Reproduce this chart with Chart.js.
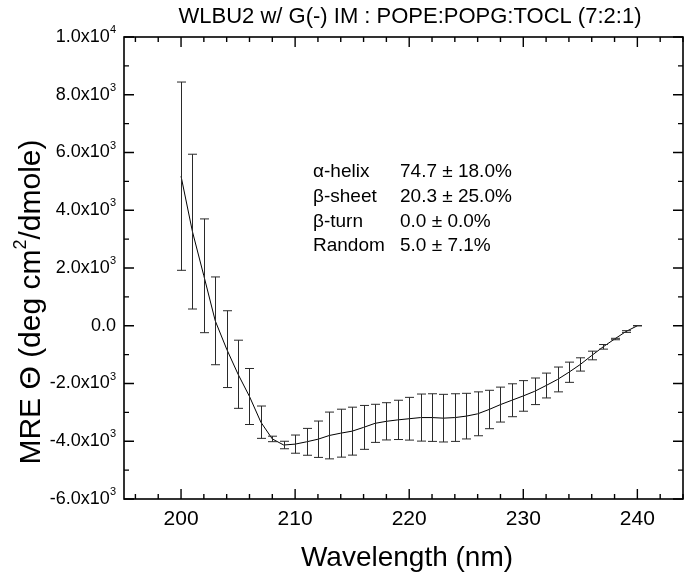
<!DOCTYPE html>
<html>
<head>
<meta charset="utf-8">
<title>WLBU2 CD spectrum</title>
<script src="https://cdn.jsdelivr.net/npm/chart.js@4.4.1/dist/chart.umd.min.js"></script>
<style>
  html, body { margin: 0; padding: 0; background: #fff; }
  #wrap { width: 689px; height: 575px; }
</style>
</head>
<body>
<div id="wrap"><canvas id="cd" width="689" height="575"></canvas></div>
<script>
// wavelength (nm) and mean residue ellipticity
const wavelength = [200, 201, 202, 203, 204, 205, 206, 207, 208, 209, 210,
    211, 212, 213, 214, 215, 216, 217, 218, 219, 220,
    221, 222, 223, 224, 225, 226, 227, 228, 229, 230,
    231, 232, 233, 234, 235, 236, 237, 238, 239, 240];
const mre = [5180, 3260, 1730, 170, -810, -1680, -2450, -3340, -3920, -4130, -4100,
    -4020, -3930, -3800, -3720, -3650, -3520, -3380, -3310, -3260, -3220,
    -3180, -3180, -3200, -3180, -3130, -3050, -2900, -2730, -2580, -2430,
    -2270, -2070, -1860, -1610, -1340, -1030, -730, -460, -200, 0];
const mreErr = [3260, 2680, 1970, 1520, 1330, 1180, 970, 560, 95, 130, 315,
    465, 630, 810, 830, 830, 760, 660, 645, 680, 740,
    815, 825, 825, 825, 790, 760, 665, 605, 570, 530,
    460, 430, 430, 350, 230, 150, 80, 25, 30, 5];

const xTicks = [200, 210, 220, 230, 240];
const xTickLabels = ['200', '210', '220', '230', '240'];
const yTicks = [10000, 8000, 6000, 4000, 2000, 0, -2000, -4000, -6000];
const yTickLabels = ['1.0x10^4', '8.0x10^3', '6.0x10^3', '4.0x10^3', '2.0x10^3',
    '0.0', '-2.0x10^3', '-4.0x10^3', '-6.0x10^3'];

const structLabels = ['\u03b1-helix', '\u03b2-sheet', '\u03b2-turn', 'Random'];
const structValues = ['74.7 \u00b1 18.0%', '20.3 \u00b1 25.0%', '0.0 \u00b1 0.0%', '5.0 \u00b1 7.1%'];

const FONT = '"Liberation Sans", Arial, sans-serif';

// draws the error bars, the frame with inward ticks and all the text
const decor = {
    id: 'decor',
    afterDatasetsDraw(chart) {
        const ctx = chart.ctx;
        const xs = chart.scales.x;
        const ys = chart.scales.y;
        const a = chart.chartArea;

        // error bars
        ctx.save();
        ctx.strokeStyle = '#2a2a2a';
        ctx.lineWidth = 1;
        wavelength.forEach((w, i) => {
            const px = Math.round(xs.getPixelForValue(w)) + 0.5;
            const top = ys.getPixelForValue(mre[i] + mreErr[i]);
            const bot = ys.getPixelForValue(mre[i] - mreErr[i]);
            ctx.beginPath();
            ctx.moveTo(px, top); ctx.lineTo(px, bot);
            ctx.moveTo(px - 4.5, top); ctx.lineTo(px + 4.5, top);
            ctx.moveTo(px - 4.5, bot); ctx.lineTo(px + 4.5, bot);
            ctx.stroke();
        });
        ctx.restore();

        // frame
        ctx.save();
        ctx.strokeStyle = '#000';
        ctx.lineWidth = 1.6;
        ctx.strokeRect(a.left, a.top, a.right - a.left, a.bottom - a.top);

        // x ticks (every 2 nm, major every 10)
        ctx.lineWidth = 1.4;
        ctx.beginPath();
        for (let v = 196; v <= 244; v += 2) {
            const px = xs.getPixelForValue(v);
            const len = (v % 10 === 0) ? 10 : 5;
            ctx.moveTo(px, a.bottom); ctx.lineTo(px, a.bottom - len);
            ctx.moveTo(px, a.top); ctx.lineTo(px, a.top + len);
        }
        // y ticks (every 1000, major every 2000)
        for (let v = -6000; v <= 10000; v += 1000) {
            const py = ys.getPixelForValue(v);
            const len = (v % 2000 === 0) ? 10 : 5;
            ctx.moveTo(a.left, py); ctx.lineTo(a.left + len, py);
            ctx.moveTo(a.right, py); ctx.lineTo(a.right - len, py);
        }
        ctx.stroke();
        ctx.restore();

        ctx.save();
        ctx.fillStyle = '#000';
        ctx.textBaseline = 'middle';

        // x tick labels
        ctx.font = '21px ' + FONT;
        ctx.textAlign = 'center';
        xTicks.forEach((v, i) => {
            ctx.fillText(xTickLabels[i], xs.getPixelForValue(v), a.bottom + 20);
        });

        // y tick labels with superscript exponent
        yTicks.forEach((v, i) => {
            const py = ys.getPixelForValue(v);
            const parts = yTickLabels[i].split('^');
            ctx.font = '18px ' + FONT;
            const w1 = ctx.measureText(parts[0]).width;
            let w2 = 0;
            if (parts[1]) {
                ctx.font = '11px ' + FONT;
                w2 = ctx.measureText(parts[1]).width;
            }
            const right = a.left - 8;
            ctx.textAlign = 'left';
            ctx.font = '18px ' + FONT;
            ctx.fillText(parts[0], right - w1 - w2, py);
            if (parts[1]) {
                ctx.font = '11px ' + FONT;
                ctx.fillText(parts[1], right - w2, py - 7);
            }
        });

        // title
        ctx.font = '22px ' + FONT;
        ctx.textAlign = 'center';
        ctx.fillText('WLBU2 w/ G(-) IM : POPE:POPG:TOCL (7:2:1)', 410, 17);

        // x axis title
        ctx.font = '28px ' + FONT;
        ctx.fillText('Wavelength (nm)', 407, 558);

        // y axis title, rotated
        ctx.save();
        ctx.translate(32, 302);
        ctx.rotate(-Math.PI / 2);
        ctx.textAlign = 'left';
        const t1 = 'MRE \u0398 (deg cm';
        const t2 = '2';
        const t3 = '/dmole)';
        ctx.font = '30px ' + FONT;
        const w1 = ctx.measureText(t1).width;
        const w3 = ctx.measureText(t3).width;
        ctx.font = '18px ' + FONT;
        const w2 = ctx.measureText(t2).width;
        let x0 = -(w1 + w2 + w3) / 2;
        ctx.font = '30px ' + FONT;
        ctx.fillText(t1, x0, 0);
        ctx.font = '18px ' + FONT;
        ctx.fillText(t2, x0 + w1, -11);
        ctx.font = '30px ' + FONT;
        ctx.fillText(t3, x0 + w1 + w2, 0);
        ctx.restore();

        // secondary structure box
        ctx.font = '19px ' + FONT;
        ctx.textAlign = 'left';
        structLabels.forEach((s, i) => {
            ctx.fillText(s, 313, 172 + i * 24.7);
            ctx.fillText(structValues[i], 400, 172 + i * 24.7);
        });
        ctx.restore();
    }
};

new Chart(document.getElementById('cd'), {
    type: 'line',
    data: {
        labels: wavelength,
        datasets: [{
            data: wavelength.map((w, i) => ({ x: w, y: mre[i] })),
            borderColor: '#000',
            borderWidth: 1,
            pointRadius: 0,
            tension: 0,
            fill: false
        }]
    },
    options: {
        responsive: false,
        devicePixelRatio: 1,
        animation: false,
        layout: { padding: { left: 124, right: 6, top: 37, bottom: 76 } },
        plugins: {
            legend: { display: false },
            title: { display: false },
            tooltip: { enabled: false }
        },
        scales: {
            x: { type: 'linear', min: 195, max: 244, display: false },
            y: { type: 'linear', min: -6000, max: 10000, display: false }
        }
    },
    plugins: [decor]
});
</script>
</body>
</html>
